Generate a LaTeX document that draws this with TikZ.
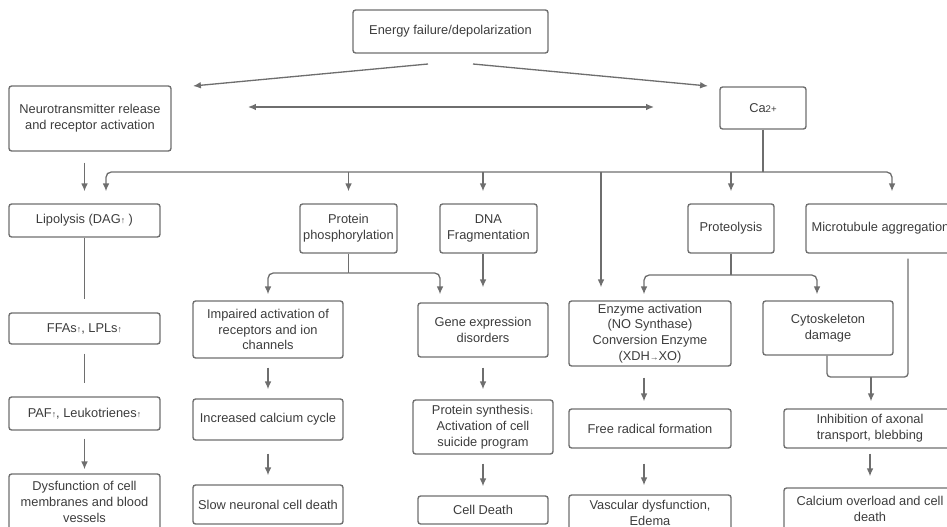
\documentclass[tikz,border=0pt]{standalone}
\usepackage{fontspec}
\setmainfont{Liberation Sans}
\usetikzlibrary{arrows.meta}

\definecolor{inkgray}{HTML}{3C3C3C}
\definecolor{linegray}{HTML}{6E6E6E}

\newcommand{\upar}{{\fontsize{5}{5}\selectfont ↑}}
\newcommand{\dnar}{{\fontsize{5}{5}\selectfont ↓}}
\newcommand{\rtar}{{\fontsize{5}{5}\selectfont →}}

\tikzset{
  box/.style 2 args={draw=linegray, line width=0.8pt, rounded corners=1.5pt,
    text=inkgray, align=center, inner sep=1pt,
    minimum width=#1*0.02cm, minimum height=#2*0.02cm,
    font=\fontsize{7.3}{9}\selectfont},
  link/.style={draw=linegray, line width=0.75pt},
  arr/.style={link, -{Latex[length=4.5pt, width=3.8pt]}},
  gap/.style 2 args={shorten <=#1*0.02cm, shorten >=#2*0.02cm},
}

\begin{document}
\begin{tikzpicture}[x=0.02cm, y=-0.02cm]
  \useasboundingbox (0,0) rectangle (947,527);
  \clip (0,0) rectangle (947,527);

  \node (energy) at (450.5, 31.5) [box={195}{43}] {Energy failure/depolarization};
  \node (neuro)  at ( 90.0,118.5) [box={162}{65}] {Neurotransmitter release\\and receptor activation};
  \node (ca)     at (763.0,108.0) [box={86}{42}] {Ca{\fontsize{5.5}{6}\selectfont 2+}};

  \node (lipo)   at ( 84.5,220.5) [box={151}{33}] {Lipolysis (DAG\upar\ )};
  \node (phos)   at (348.5,228.5) [box={97}{49}] {Protein\\phosphorylation};
  \node (dna)    at (488.5,228.5) [box={97}{49}] {DNA\\Fragmentation};
  \node (proteo) at (731.0,228.5) [box={86}{49}] {Proteolysis};
  \node (micro)  at (880.5,228.5) [box={149}{49}] {Microtubule aggregation};

  \node (ffas)     at ( 84.5,328.5) [box={151}{31}] {FFAs\upar, LPLs\upar};
  \node (paf)      at ( 84.5,413.5) [box={151}{33}] {PAF\upar, Leukotrienes\upar};
  \node (dysf)     at ( 84.5,502.0) [box={151}{56}] {Dysfunction of cell\\membranes and blood\\vessels};

  \node (impaired) at (268.0,329.5) [box={150}{57}] {Impaired activation of\\receptors and ion\\channels};
  \node (incr)     at (268.0,419.5) [box={150}{41}] {Increased calcium cycle};
  \node (slow)     at (268.0,504.5) [box={150}{39}] {Slow neuronal cell death};

  \node (gene)     at (483.0,330.0) [box={130}{54}] {Gene expression\\disorders};
  \node (psyn)     at (483.0,427.0) [box={140}{54}] {Protein synthesis\dnar\\Activation of cell\\suicide program};
  \node (death)    at (483.0,510.0) [box={130}{28}] {Cell Death};

  \node (enzyme)   at (650.0,333.5) [box={162}{65}] {Enzyme activation\\(NO Synthase)\\Conversion Enzyme\\(XDH\rtar XO)};
  \node (freerad)  at (650.0,428.5) [box={162}{39}] {Free radical formation};
  \node (vasc)     at (650.0,513.0) [box={162}{36}] {Vascular dysfunction,\\Edema};

  \node (cyto)     at (828.0,328.0) [box={130}{54}] {Cytoskeleton\\damage};
  \node (inhib)    at (870.0,428.5) [box={172}{39}] {Inhibition of axonal\\transport, blebbing};
  \node (calc)     at (870.0,509.0) [box={172}{42}] {Calcium overload and cell\\death};

  \coordinate (eL) at (428,64);
  \coordinate (eR) at (473,64);
  \coordinate (nE) at (193,86);
  \coordinate (cE) at (708,86);
  \coordinate (hL) at (248,107);
  \coordinate (hR) at (654,107);
  \coordinate (busL) at (106,172);
  \coordinate (busR) at (892,172);
  \coordinate (busE) at (601,172);
  \coordinate (phosL) at (268,273);
  \coordinate (phosR) at (440,273);
  \coordinate (proL) at (644,275);
  \coordinate (proR) at (817,275);
  \coordinate (mergeL) at (827,377);
  \coordinate (mergeM) at (871,377);
  \coordinate (mergeR) at (908,377);

  \draw[arr] (eL) -- (nE);
  \draw[arr] (eR) -- (cE);
  \draw[link, {Latex[length=4.5pt, width=3.8pt]}-{Latex[length=4.5pt, width=3.8pt]}] (hL) -- (hR);

  \draw[arr, gap={11}{12}] (neuro.south -| lipo.north) -- (lipo.north);

  \draw[link] (ca.south) -- (ca.south |- busL);
  \draw[arr, rounded corners=3pt, shorten >=12*0.02cm] (ca.south |- busL) -- (busL) -- (busL |- lipo.north);
  \draw[arr, rounded corners=3pt, shorten >=12*0.02cm] (ca.south |- busL) -- (busR) -- (busR |- micro.north);
  \foreach \n in {phos, proteo}
    \draw[arr, shorten >=12*0.02cm] (\n.north |- busL) -- (\n.north);
  \draw[arr, shorten >=12*0.02cm] (gene.north |- busL) -- (gene.north |- dna.north);
  \draw[arr, shorten >=13*0.02cm] (busE) -- (busE |- enzyme.north);

  \draw[link, gap={0}{13}] (lipo.south) -- (ffas.north);
  \draw[link, gap={9}{13}] (ffas.south) -- (paf.north);
  \draw[arr, gap={8}{4}] (paf.south) -- (dysf.north);

  \draw[link] (phos.south) -- (phos.south |- phosL);
  \draw[arr, rounded corners=3pt, shorten >=6*0.02cm] (phos.south |- phosL) -- (phosL) -- (impaired.north);
  \draw[arr, rounded corners=3pt, shorten >=8*0.02cm] (phos.south |- phosL) -- (phosR) -- (phosR |- gene.north);
  \draw[arr, gap={9}{9}] (impaired.south) -- (incr.north);
  \draw[arr, gap={13}{9}] (incr.south) -- (slow.north);

  \draw[arr, shorten >=15*0.02cm] (dna.south -| gene.north) -- (gene.north);
  \draw[arr, gap={10}{10}] (gene.south) -- (psyn.north);
  \draw[arr, gap={9}{9}] (psyn.south) -- (death.north);

  \draw[link] (proteo.south) -- (proteo.south |- proL);
  \draw[arr, rounded corners=3pt, shorten >=6*0.02cm] (proteo.south |- proL) -- (proL) -- (proL |- enzyme.north);
  \draw[arr, rounded corners=3pt, shorten >=6*0.02cm] (proteo.south |- proL) -- (proR) -- (proR |- cyto.north);
  \draw[arr, gap={11}{7}] (proL |- enzyme.south) -- (proL |- freerad.north);
  \draw[arr, gap={15}{9}] (proL |- freerad.south) -- (proL |- vasc.north);

  \draw[link, rounded corners=2pt, shorten >=5*0.02cm] (cyto.south -| mergeL) -- (mergeL) -- (mergeR) -- (mergeR |- micro.south);
  \draw[arr, shorten >=7*0.02cm] (mergeM) -- (mergeM |- inhib.north);
  \draw[arr, gap={5}{11}] (inhib.south) -- (calc.north);
\end{tikzpicture}
\end{document}
